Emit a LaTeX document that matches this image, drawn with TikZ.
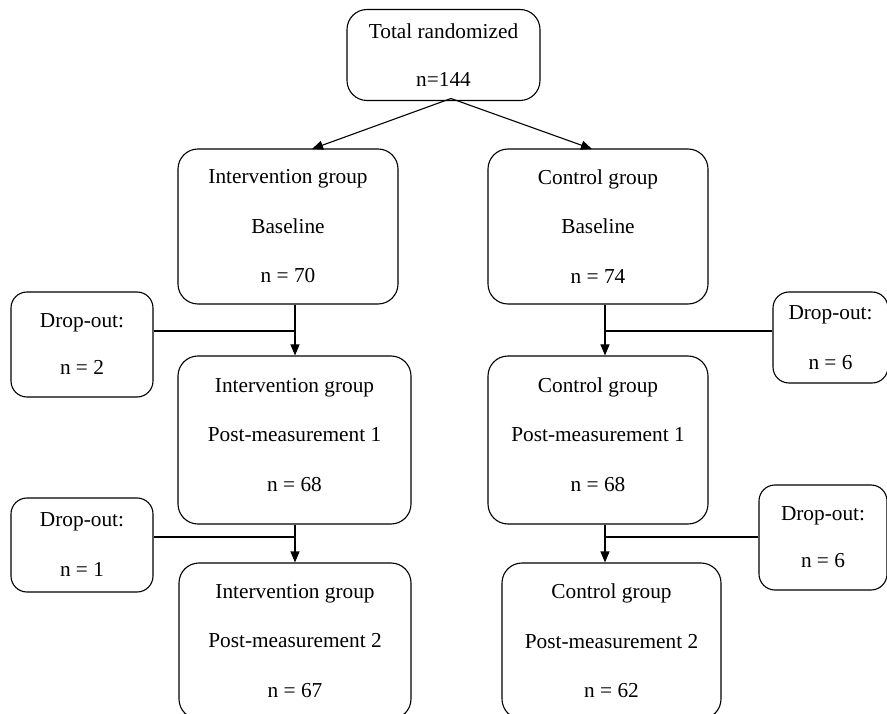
\documentclass[tikz,border=0pt]{standalone}
\usepackage{fontspec}
\setmainfont{Liberation Serif}
\usetikzlibrary{arrows.meta}
\begin{document}
\begin{tikzpicture}[x=1pt,y=-1pt,
  box/.style={draw, line width=1.1pt, rounded corners=20pt, align=center, inner sep=0pt,
    font=\fontsize{21.3}{49.5}\selectfont},
  dbox/.style={draw, line width=1.1pt, rounded corners=16pt, align=center, inner sep=0pt,
    font=\fontsize{21.3}{47}\selectfont},
  conn/.style={line width=1.1pt},
  arr/.style={line width=1.1pt, -{Triangle[length=11pt,width=9pt]}}]
\clip (0,0) rectangle (887,714);
\fill[white] (0,0) rectangle (887,714);

\node[box, minimum width=193pt, minimum height=91pt, font=\fontsize{21.3}{48}\selectfont] (top) at (443.5,55) {Total randomized\\n=144};
\node[box, minimum width=220pt, minimum height=155pt] (ib) at (288,226.5) {Intervention group\\Baseline\\n = 70};
\node[box, minimum width=220pt, minimum height=155pt] (cb) at (598,226.5) {Control group\\Baseline\\n = 74};
\node[box, minimum width=233pt, minimum height=168pt, text depth=11pt] (ip1) at (294.5,440) {Intervention group\\Post-measurement 1\\n = 68};
\node[box, minimum width=220pt, minimum height=168pt, text depth=11pt] (cp1) at (598,440) {Control group\\Post-measurement 1\\n = 68};
\node[box, minimum width=232pt, minimum height=156pt] (ip2) at (295,641) {Intervention group\\Post-measurement 2\\n = 67};
\node[box, minimum width=219pt, minimum height=156pt] (cp2) at (611.5,641) {Control group\\Post-measurement 2\\n = 62};

\node[dbox, minimum width=142pt, minimum height=105pt] (dl1) at (82,344.5) {Drop-out:\\n = 2};
\node[dbox, minimum width=142pt, minimum height=94pt, font=\fontsize{21.3}{50}\selectfont] (dl2) at (82,545) {Drop-out:\\n = 1};
\node[dbox, minimum width=115pt, minimum height=91pt, font=\fontsize{21.3}{50}\selectfont] (dr1) at (830.5,337.5) {Drop-out:\\n = 6};
\node[dbox, minimum width=128pt, minimum height=105pt] (dr2) at (823,537.5) {Drop-out:\\n = 6};

\coordinate (apex) at (451,98.5);
\draw[arr] (apex) -- (312,149);
\draw[arr] (apex) -- (592,149);

\coordinate (j1) at (295,331);
\coordinate (j2) at (605,331);
\coordinate (j3) at (295,537);
\coordinate (j4) at (605,537);

\draw[arr] (ib.south -| j1) -- (ip1.north -| j1);
\draw[conn] (dl1.east |- j1) -- (j1);
\draw[arr] (cb.south -| j2) -- (cp1.north -| j2);
\draw[conn] (dr1.west |- j2) -- (j2);
\draw[arr] (ip1.south -| j3) -- (ip2.north -| j3);
\draw[conn] (dl2.east |- j3) -- (j3);
\draw[arr] (cp1.south -| j4) -- (cp2.north -| j4);
\draw[conn] (dr2.west |- j4) -- (j4);
\end{tikzpicture}
\end{document}
